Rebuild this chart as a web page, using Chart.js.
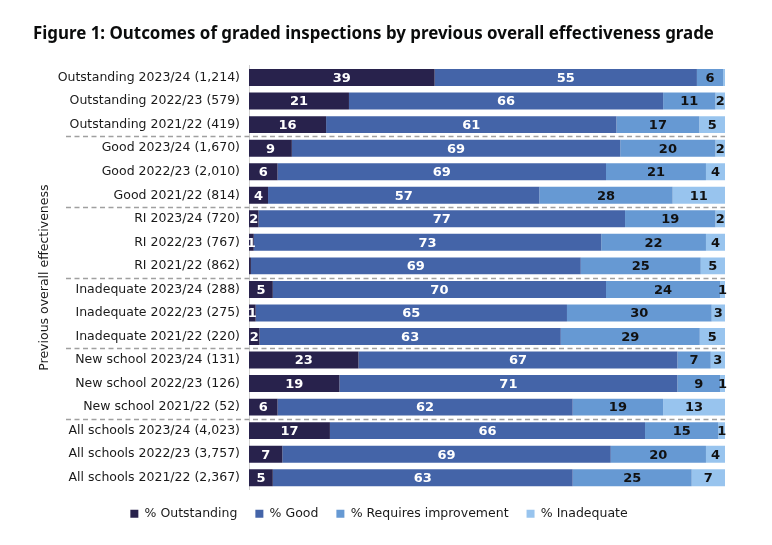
<!DOCTYPE html>
<html>
<head>
<meta charset="utf-8">
<script src="https://cdn.jsdelivr.net/npm/chart.js@4"></script>
<style>
  html, body { margin: 0; padding: 0; background: #fff; }
  #wrap { width: 772px; height: 545px; }
</style>
</head>
<body>
<div id="wrap"><canvas id="myChart"></canvas></div>
<script>
const categories = [
  "Outstanding 2023/24 (1,214)", "Outstanding 2022/23 (579)", "Outstanding 2021/22 (419)",
  "Good 2023/24 (1,670)", "Good 2022/23 (2,010)", "Good 2021/22 (814)",
  "RI 2023/24 (720)", "RI 2022/23 (767)", "RI 2021/22 (862)",
  "Inadequate 2023/24 (288)", "Inadequate 2022/23 (275)", "Inadequate 2021/22 (220)",
  "New school 2023/24 (131)", "New school 2022/23 (126)", "New school 2021/22 (52)",
  "All schools 2023/24 (4,023)", "All schools 2022/23 (3,757)", "All schools 2021/22 (2,367)"
];

// percentages (labels show the rounded value)
const outstanding = [39, 21, 16.2, 9, 6, 4, 2, 1, 0.4, 5, 1.4, 2.2, 23, 19, 6, 17, 7, 5];
const good = [55.1, 66, 61, 69, 69, 57, 77, 73, 69.3, 70, 65.4, 63.3, 67, 71, 62, 66.2, 69, 63];
const requiresImprovement = [5.5, 11, 17.4, 20, 21, 28, 19, 22, 25.2, 24, 30.4, 29.2, 7, 9, 19, 15.4, 20, 25];
const inadequate = [0.4, 2, 5.4, 2, 4, 11, 2, 4, 5.1, 1, 2.8, 5.3, 3, 1, 13, 1.4, 4, 7];

const seriesNames = ["% Outstanding", "% Good", "% Requires improvement", "% Inadequate"];
const barColors = ["#28224c", "#4464a8", "#6699d3", "#98c4ee"];

// group boundaries (dashed lines after these rows)
const groupEnds = [2, 5, 8, 11, 14];

const FONT = '"DejaVu Sans", Verdana, sans-serif';

const barLabels = {
  id: "barLabels",
  afterDatasetsDraw(chart) {
    const ctx = chart.ctx;
    ctx.save();
    ctx.font = "bold 13px " + FONT;
    ctx.textAlign = "center";
    ctx.textBaseline = "middle";
    chart.data.datasets.forEach((ds, i) => {
      const meta = chart.getDatasetMeta(i);
      meta.data.forEach((bar, j) => {
        const v = ds.data[j];
        if (v < 0.8) return;
        const p = bar.getProps(["x", "base", "y"], true);
        ctx.fillStyle = i < 2 ? "#ffffff" : "#111111";
        ctx.fillText(Math.round(v), (p.x + p.base) / 2, p.y + 1);
      });
    });
    ctx.restore();
  }
};

const groupLines = {
  id: "groupLines",
  afterDraw(chart) {
    const ctx = chart.ctx;
    const y = chart.scales.y;
    const area = chart.chartArea;
    ctx.save();
    ctx.strokeStyle = "#a0a0a0";
    ctx.lineWidth = 1.5;
    ctx.setLineDash([5, 3.5]);
    groupEnds.forEach((i) => {
      const py = Math.round((y.getPixelForValue(i) + y.getPixelForValue(i + 1)) / 2) + 0.5;
      ctx.beginPath();
      ctx.moveTo(66, py);
      ctx.lineTo(area.right, py);
      ctx.stroke();
    });
    ctx.restore();
  }
};

const seriesData = [outstanding, good, requiresImprovement, inadequate];

new Chart("myChart", {
  type: "bar",
  data: {
    labels: categories,
    datasets: seriesData.map((d, i) => ({
      label: seriesNames[i],
      data: d,
      backgroundColor: barColors[i],
      borderWidth: 0,
      categoryPercentage: 0.8,
      barPercentage: 0.9
    }))
  },
  options: {
    indexAxis: "y",
    responsive: true,
    maintainAspectRatio: false,
    animation: false,
    layout: { padding: { left: 33, right: 47, top: 24, bottom: 15 } },
    scales: {
      x: {
        stacked: true,
        min: 0,
        max: 100,
        display: false
      },
      y: {
        stacked: true,
        grid: { display: false, drawTicks: false },
        border: { display: true, color: "#d0d0d0", width: 1 },
        ticks: { color: "#1a1a1a", font: { family: FONT, size: 12.5 }, padding: 9 },
        title: {
          display: true,
          text: "Previous overall effectiveness",
          color: "#1a1a1a",
          font: { family: FONT, size: 12.5 },
          padding: { top: 4, bottom: 0 }
        },
        afterFit(scale) { scale.width = 216; }
      }
    },
    plugins: {
      title: {
        display: true,
        text: "Figure 1: Outcomes of graded inspections by previous overall effectiveness grade",
        align: "start",
        color: "#0b0c0c",
        font: { family: '"Noto Sans", sans-serif', size: 16.9, weight: "bold" },
        padding: { top: 0, bottom: 21.5 }
      },
      legend: {
        position: "bottom",
        labels: {
          color: "#1a1a1a",
          font: { family: FONT, size: 12.5 },
          boxWidth: 8,
          boxHeight: 8,
          padding: 18
        }
      },
      tooltip: { enabled: false }
    }
  },
  plugins: [barLabels, groupLines]
});
</script>
</body>
</html>
